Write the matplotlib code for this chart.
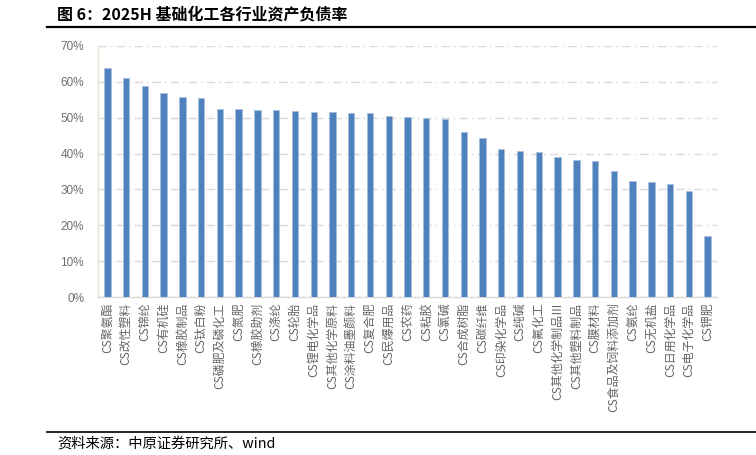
import matplotlib
matplotlib.use("Agg")
import matplotlib.pyplot as plt
from matplotlib.ticker import PercentFormatter
from matplotlib.lines import Line2D

plt.rcParams['font.family'] = ['Noto Sans CJK SC', 'DejaVu Sans']

categories = ["CS聚氨酯", "CS改性塑料", "CS锦纶", "CS有机硅", "CS橡胶制品", "CS钛白粉",
              "CS磷肥及磷化工", "CS氮肥", "CS橡胶助剂", "CS涤纶", "CS轮胎", "CS锂电化学品",
              "CS其他化学原料", "CS涂料油墨颜料", "CS复合肥", "CS民爆用品", "CS农药", "CS粘胶",
              "CS氯碱", "CS合成树脂", "CS碳纤维", "CS印染化学品", "CS纯碱", "CS氟化工",
              "CS其他化学制品Ⅲ", "CS其他塑料制品", "CS膜材料", "CS食品及饲料添加剂", "CS氨纶",
              "CS无机盐", "CS日用化学品", "CS电子化学品", "CS钾肥"]
values = [63.8, 61.0, 58.8, 57.0, 55.7, 55.4, 52.4, 52.4, 52.1, 52.1, 51.9, 51.6,
          51.5, 51.4, 51.2, 50.4, 50.1, 50.0, 49.7, 45.9, 44.3, 41.3, 40.7, 40.3,
          39.0, 38.2, 37.9, 35.2, 32.3, 32.0, 31.4, 29.6, 17.1]
yticks = [0, 10, 20, 30, 40, 50, 60, 70]
title = "图 6：2025H 基础化工各行业资产负债率"
source = "资料来源：中原证券研究所、wind"

W, H = 756, 455
fig = plt.figure(figsize=(W / 100, H / 100), dpi=100)
ax = fig.add_axes([98 / W, 1 - 297 / H, (717 - 98) / W, (297 - 46) / H])

x = list(range(len(categories)))
ax.bar(x, values, width=0.34, color="#4F81BD", edgecolor="#A7C0DE", linewidth=0.6, zorder=3)

ax.set_xlim(-0.5, len(categories) - 0.5)
ax.set_ylim(0, 70)
ax.set_yticks(yticks)
ax.yaxis.set_major_formatter(PercentFormatter(decimals=0))
ax.set_xticks(x)
ax.set_xticklabels(categories, rotation=90, fontsize=8.6, color="#666666",
                   family=['Noto Sans CJK SC', 'DejaVu Sans'])
for lbl in ax.get_yticklabels():
    lbl.set_fontsize(8.5)
    lbl.set_color("#6E6E6E")
    lbl.set_family(['Liberation Sans', 'DejaVu Sans'])
ax.tick_params(axis='both', length=0)
ax.tick_params(axis='x', pad=4)
ax.tick_params(axis='y', pad=10)

ax.grid(axis='y', color="#D9D9D9", linestyle=(0, (6, 3, 1, 3)), linewidth=1.0, zorder=0)
for s in ['top', 'right']:
    ax.spines[s].set_visible(False)
ax.spines['left'].set_color("#E6E3D3")
ax.spines['bottom'].set_color("#D9D9D9")
ax.spines['left'].set_linewidth(1.0)
ax.spines['bottom'].set_linewidth(1.0)

fig.text(57 / W, 1 - 14 / H, title, fontsize=11.5, fontweight='bold', color="#000000",
         ha='left', va='center', family=['Noto Sans CJK SC', 'DejaVu Sans'])
fig.add_artist(Line2D([47 / W, 1.0], [1 - 27 / H, 1 - 27 / H], color="black", linewidth=1.6,
                      transform=fig.transFigure))
fig.add_artist(Line2D([47 / W, 1.0], [1 - 432 / H, 1 - 432 / H], color="black", linewidth=1.2,
                      transform=fig.transFigure))
fig.text(57 / W, 1 - 445 / H, source, fontsize=10.3, color="#000000", ha='left', va='center',
         family=['Noto Sans CJK SC', 'DejaVu Sans'])

fig.savefig("out.png", dpi=100)
